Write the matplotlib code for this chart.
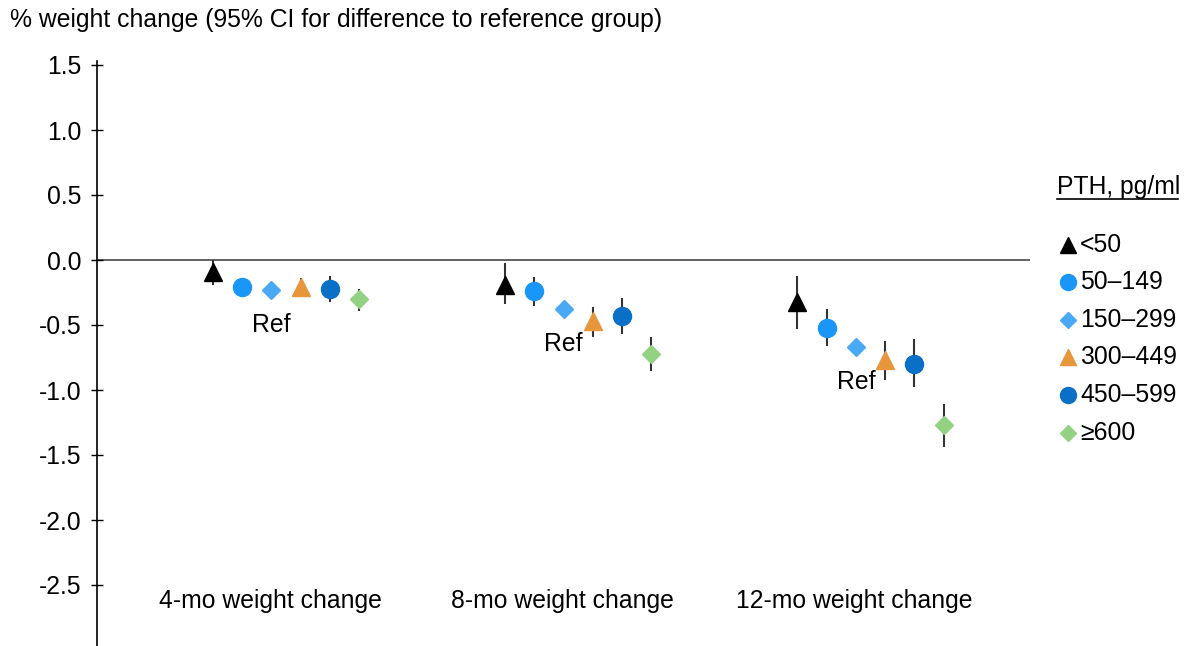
import numpy as np
import matplotlib
matplotlib.use("Agg")
import matplotlib.pyplot as plt
from matplotlib.lines import Line2D

plt.rcParams['font.family'] = ['Liberation Sans', 'DejaVu Sans']
plt.rcParams['axes.unicode_minus'] = False

nan = np.nan

# Follow-up periods (x categories)
periods = ["4-mo weight change", "8-mo weight change", "12-mo weight change"]

# PTH categories (series)
pth_groups = ["<50", "50–149", "150–299", "300–449", "450–599", "≥600"]
ref_index = 2  # 150–299 is the reference group

# Estimated % weight change per PTH category
est_4mo = [-0.09, -0.21, -0.23, -0.21, -0.22, -0.30]
est_8mo = [-0.19, -0.24, -0.38, -0.47, -0.43, -0.72]
est_12mo = [-0.32, -0.52, -0.67, -0.77, -0.80, -1.27]

# 95% CI bounds (reference group has none)
ci_low_4mo = [-0.19, -0.28, nan, -0.28, -0.32, -0.39]
ci_high_4mo = [0.00, -0.14, nan, -0.14, -0.12, -0.22]
ci_low_8mo = [-0.34, -0.35, nan, -0.59, -0.57, -0.85]
ci_high_8mo = [-0.02, -0.13, nan, -0.36, -0.29, -0.59]
ci_low_12mo = [-0.53, -0.66, nan, -0.92, -0.98, -1.44]
ci_high_12mo = [-0.12, -0.38, nan, -0.62, -0.61, -1.11]

y_ticks = [1.5, 1.0, 0.5, 0.0, -0.5, -1.0, -1.5, -2.0, -2.5]

# Marker styling per PTH category
colors = ["#000000", "#1a96f8", "#4aa9f5", "#e8963c", "#0a6fc6", "#93d283"]
markers = ["^", "o", "D", "^", "o", "D"]
sizes = [12.5, 13, 9, 12.5, 13, 9]
legend_sizes = [11.5, 11.5, 8, 11.5, 11.5, 8]

estimates = [est_4mo, est_8mo, est_12mo]
lows = [ci_low_4mo, ci_low_8mo, ci_low_12mo]
highs = [ci_high_4mo, ci_high_8mo, ci_high_12mo]

W, H = 1187, 646
fig = plt.figure(figsize=(W / 100, H / 100), dpi=100)


def fx(px):
    return px / W


def fy(py):
    return 1 - py / H


ax = fig.add_axes([fx(97), 0, fx(1030) - fx(97), fy(65)])
ax.set_xlim(-0.647, 2.546)
ax.set_ylim(1.5 - (646 - 65) / 130.0, 1.5)

step = 0.1
n = len(pth_groups)
for p in range(len(periods)):
    for i in range(n):
        x = p + (i - (n - 1) / 2) * step
        y = estimates[p][i]
        lo, hi = lows[p][i], highs[p][i]
        if not np.isnan(lo):
            ax.plot([x, x], [lo, hi], color="#333333", lw=1.5, zorder=2,
                    solid_capstyle="butt")
        ax.plot(x, y, marker=markers[i], ms=sizes[i], color=colors[i],
                mec=colors[i], ls="none", zorder=3)
    # Reference label under the reference group's marker
    xr = p + (ref_index - (n - 1) / 2) * step
    ax.annotate("Ref", (xr, estimates[p][ref_index]), xytext=(0, -25),
                textcoords="offset points", ha="center", va="center",
                fontsize=17.8)
    # Category label
    ax.text(p - 0.055, -2.62, periods[p], ha="center", va="center",
            fontsize=17.8)

ax.axhline(0, color="#555555", lw=1.3, zorder=1)

for s in ["top", "right", "bottom"]:
    ax.spines[s].set_visible(False)
ax.spines["left"].set_linewidth(1.2)
ax.spines["left"].set_bounds(ax.get_ylim()[0], 1.53)
ax.set_xticks([])
ax.set_yticks(y_ticks)
ax.set_yticklabels([f"{v:.1f}" for v in y_ticks])
ax.tick_params(axis="y", direction="inout", length=9, width=1, pad=7,
               labelsize=17.8)

fig.text(fx(10), fy(20), "% weight change (95% CI for difference to reference group)",
         ha="left", va="center", fontsize=17.8)

# Legend drawn by hand
fig.text(fx(1057), fy(187), "PTH, pg/ml", ha="left", va="center", fontsize=17.8)
fig.add_artist(Line2D([fx(1057), fx(1178)], [fy(199), fy(199)], color="black",
                      lw=1.2, transform=fig.transFigure))
row_y = 245
for i, name in enumerate(pth_groups):
    yy = row_y + i * 37.5
    fig.add_artist(Line2D([fx(1068)], [fy(yy)], marker=markers[i],
                          ms=legend_sizes[i], color=colors[i], mec=colors[i],
                          ls="none", transform=fig.transFigure))
    fig.text(fx(1080), fy(yy), name, ha="left", va="center", fontsize=17.8)

fig.savefig("out.png", dpi=100)
